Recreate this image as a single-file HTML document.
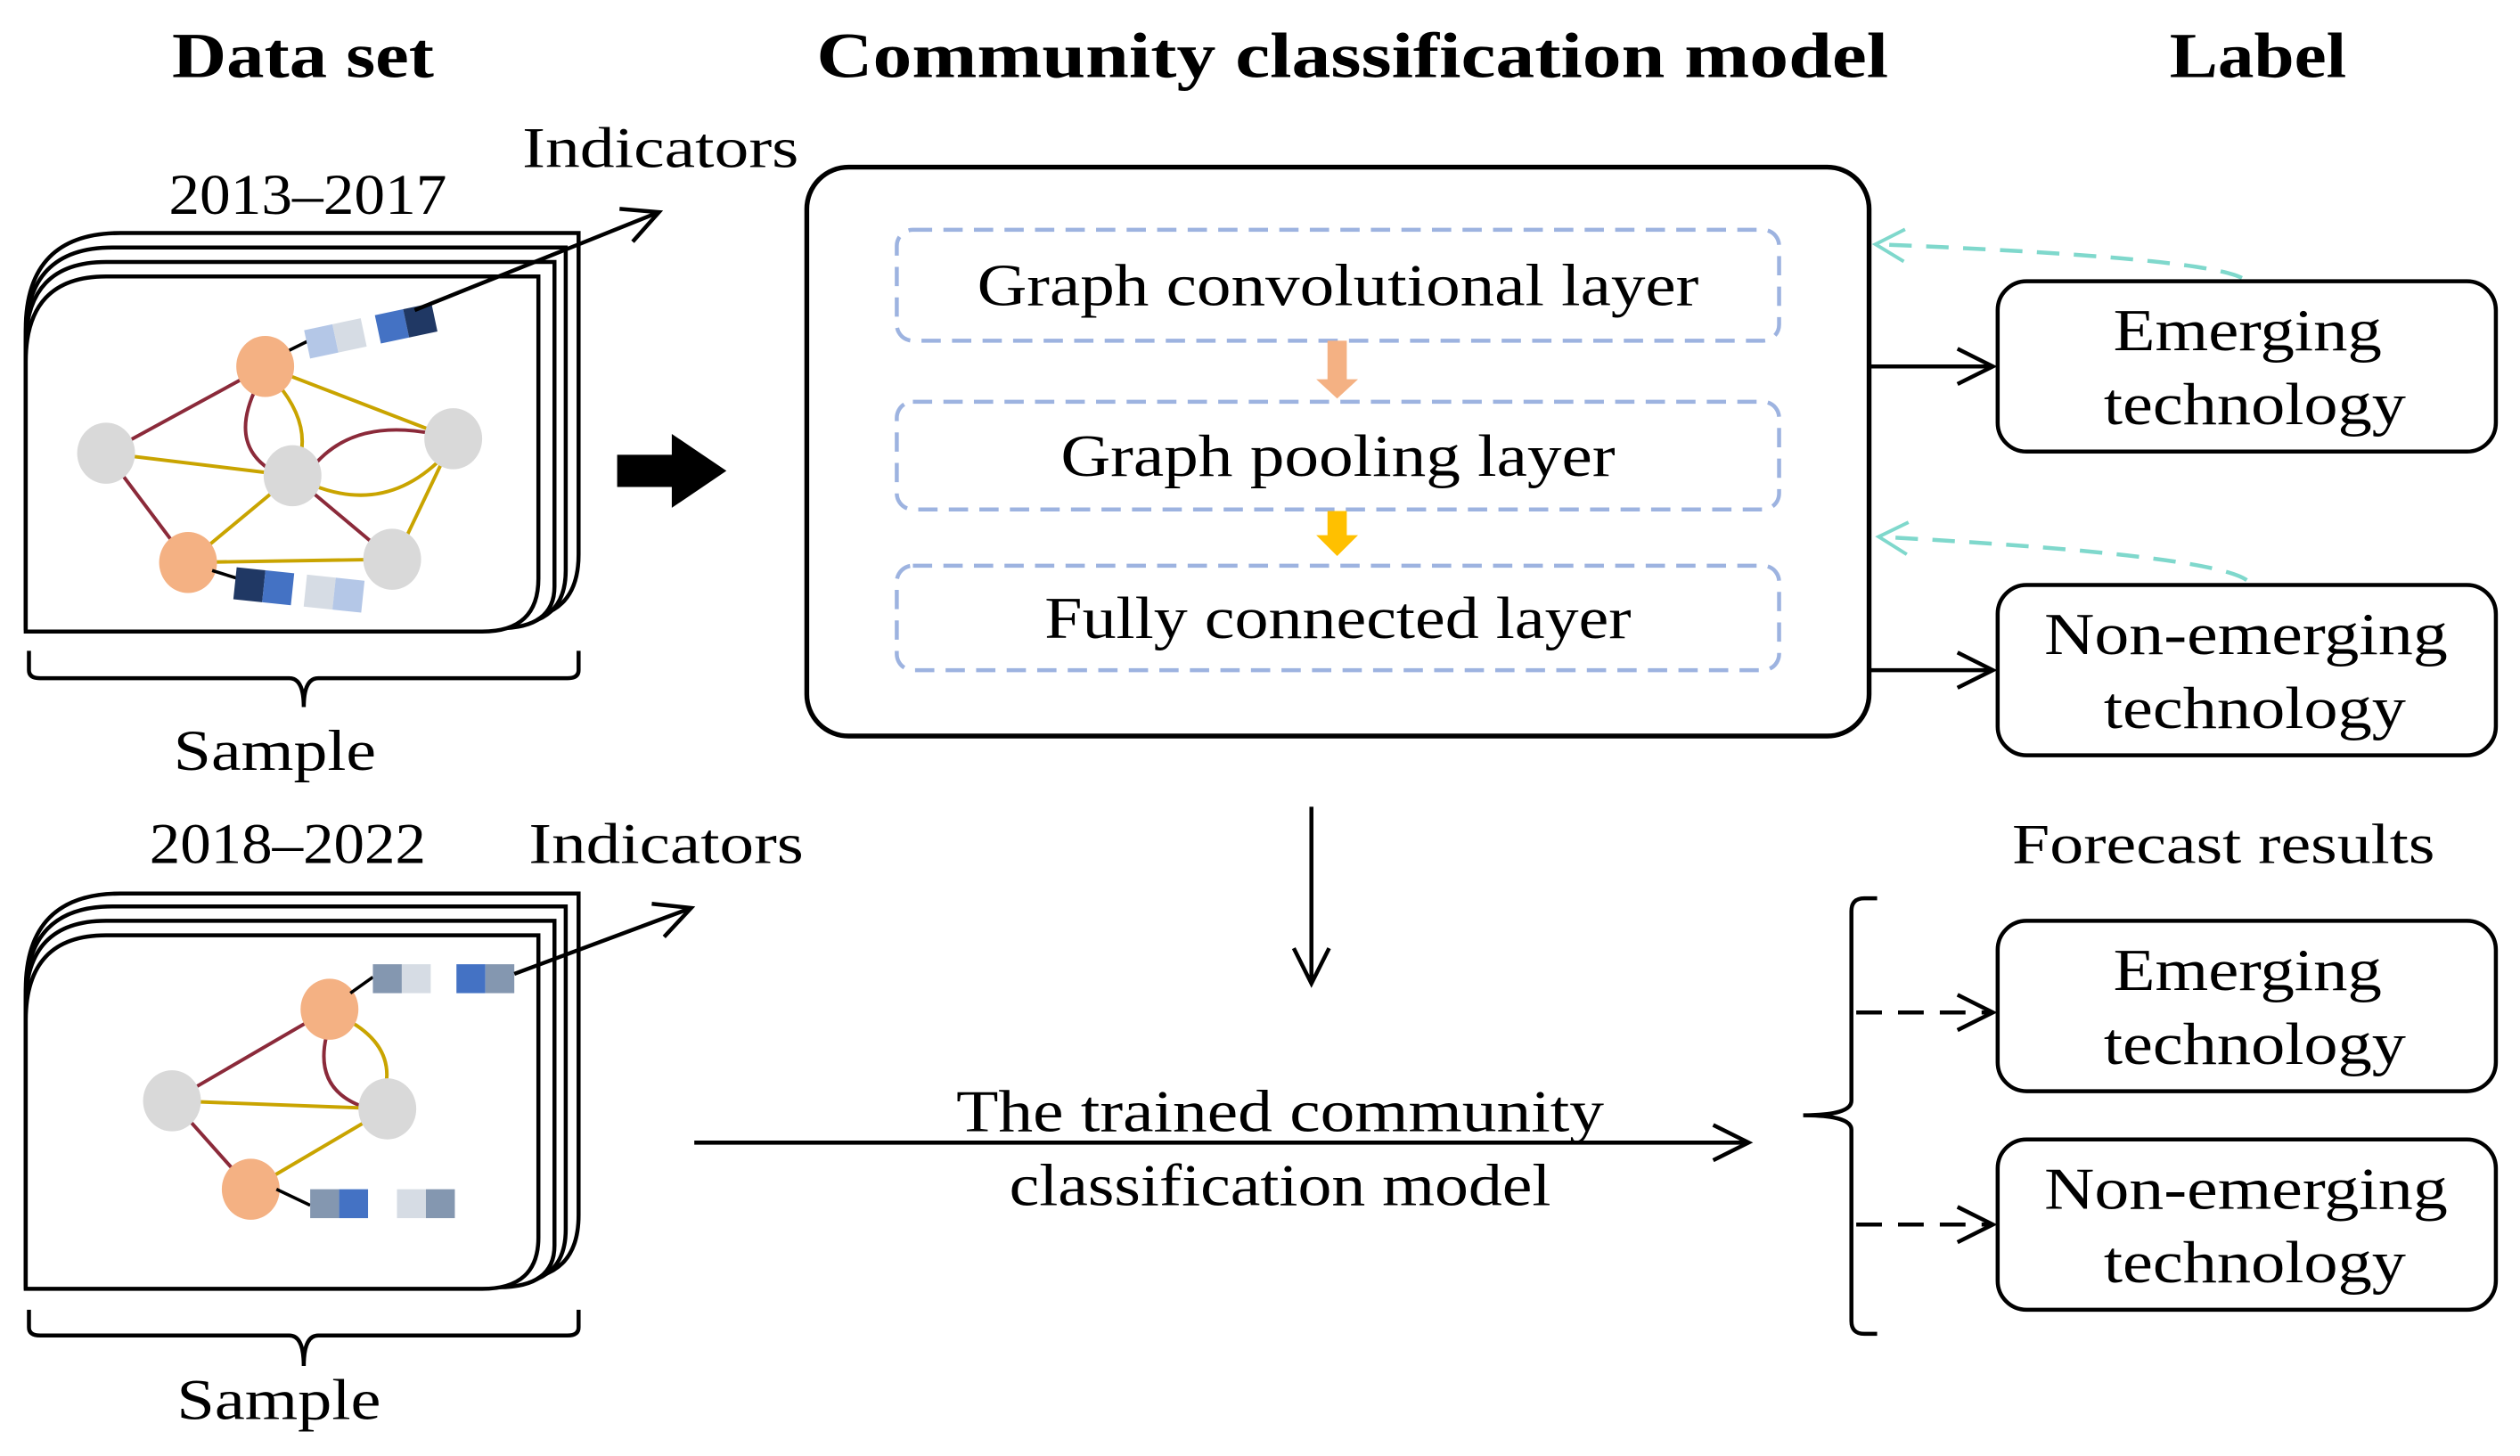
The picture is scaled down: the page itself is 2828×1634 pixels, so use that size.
<!DOCTYPE html>
<html><head><meta charset="utf-8">
<style>
html,body{margin:0;padding:0;background:#fff;}
svg{display:block;}
text{font-family:"Liberation Serif",serif;fill:#000;}
</style></head>
<body>
<svg width="2828" height="1634" viewBox="0 0 1568 906" xmlns="http://www.w3.org/2000/svg">
<defs>
<marker id="oab" markerWidth="30" markerHeight="30" refX="26" refY="15" orient="auto" markerUnits="userSpaceOnUse">
<path d="M4,4 L26,15 L4,26" fill="none" stroke="#000" stroke-width="2.5"/></marker>
<marker id="ta" markerWidth="30" markerHeight="30" refX="24" refY="15" orient="auto" markerUnits="userSpaceOnUse">
<path d="M6,5 L24,15 L6,25" fill="none" stroke="#7fd8cc" stroke-width="2.2"/></marker>
</defs>

<!-- Titles -->
<text x="107" y="48" font-size="40" font-weight="bold" textLength="163" lengthAdjust="spacingAndGlyphs">Data set</text>
<text x="508" y="48" font-size="40" font-weight="bold" textLength="667" lengthAdjust="spacingAndGlyphs">Community classification model</text>
<text x="1350" y="48" font-size="40" font-weight="bold" textLength="110" lengthAdjust="spacingAndGlyphs">Label</text>

<!-- Card stack 1 -->
<g fill="#fff" stroke="#000" stroke-width="2.5">
<path d="M75,145 H360 V345 Q360,385 320,385 H16 V205 Q16,145 75,145Z"/>
<path d="M70,154 H352 V355 Q352,389 315,389 H16 V210 Q16,154 70,154Z"/>
<path d="M66,163 H345 V365 Q345,391 310,391 H16 V215 Q16,163 66,163Z"/>
<path d="M66,172 H335 V360 Q335,393 300,393 H16 V225 Q16,172 66,172Z"/>
</g>
<g stroke-width="2.2" fill="none">
<line x1="165" y1="228" x2="66" y2="282" stroke="#8b2a3a"/>
<line x1="165" y1="228" x2="282" y2="273" stroke="#c9a400"/>
<path d="M160,240 Q140,280 175,296" stroke="#8b2a3a"/>
<path d="M172,238 Q195,265 185,290" stroke="#c9a400"/>
<line x1="66" y1="282" x2="182" y2="296" stroke="#c9a400"/>
<line x1="66" y1="282" x2="117" y2="350" stroke="#8b2a3a"/>
<path d="M195,290 Q220,260 270,270" stroke="#8b2a3a"/>
<path d="M195,302 Q240,320 275,285" stroke="#c9a400"/>
<line x1="182" y1="296" x2="117" y2="350" stroke="#c9a400"/>
<line x1="182" y1="296" x2="244" y2="348" stroke="#8b2a3a"/>
<line x1="282" y1="273" x2="250" y2="340" stroke="#c9a400"/>
<line x1="117" y1="350" x2="244" y2="348" stroke="#c9a400"/>
</g>
<ellipse cx="165" cy="228" rx="18" ry="19" fill="#f4b183"/>
<ellipse cx="117" cy="350" rx="18" ry="19" fill="#f4b183"/>
<ellipse cx="66" cy="282" rx="18" ry="19" fill="#d9d9d9"/>
<ellipse cx="182" cy="296" rx="18" ry="19" fill="#d9d9d9"/>
<ellipse cx="282" cy="273" rx="18" ry="19" fill="#d9d9d9"/>
<ellipse cx="244" cy="348" rx="18" ry="19" fill="#d9d9d9"/>
<line x1="180" y1="218" x2="192" y2="212" stroke="#000" stroke-width="2"/>
<g transform="rotate(-12 230 205)">
<rect x="190" y="197" width="18" height="18" fill="#b4c7e7"/><rect x="208" y="197" width="18" height="18" fill="#d6dce4"/>
<rect x="235" y="197" width="18" height="18" fill="#4472c4"/><rect x="253" y="197" width="18" height="18" fill="#203864"/>
</g>
<line x1="258" y1="193" x2="410" y2="132" stroke="#000" stroke-width="2.5" marker-end="url(#oab)"/>
<line x1="132" y1="355" x2="148" y2="360" stroke="#000" stroke-width="2"/>
<g transform="rotate(6 185 367)">
<rect x="146" y="357" width="18" height="20" fill="#203864"/><rect x="164" y="357" width="18" height="20" fill="#4472c4"/>
<rect x="190" y="357" width="18" height="20" fill="#d6dce4"/><rect x="208" y="357" width="18" height="20" fill="#b4c7e7"/>
</g>
<text x="105" y="133" font-size="36" textLength="173" lengthAdjust="spacingAndGlyphs">2013–2017</text>
<text x="325" y="104" font-size="36" textLength="172" lengthAdjust="spacingAndGlyphs">Indicators</text>
<path d="M18,405 V417 Q18,422 25,422 H180 Q189,422 189,440 Q189,422 198,422 H353 Q360,422 360,417 V405" fill="none" stroke="#000" stroke-width="2.5"/>
<text x="108" y="479" font-size="36" textLength="126" lengthAdjust="spacingAndGlyphs">Sample</text>

<!-- Big arrow -->
<path d="M384,283 H418 V270 L452,293 L418,316 V303 H384Z" fill="#000"/>

<!-- Main box -->
<rect x="502" y="104" width="661" height="354" rx="26" fill="#fff" stroke="#000" stroke-width="3"/>
<g fill="none" stroke="#9db3e0" stroke-width="2.5" stroke-dasharray="12,7">
<rect x="558" y="143" width="549" height="69" rx="10"/>
<rect x="558" y="250" width="549" height="67" rx="10"/>
<rect x="558" y="352" width="549" height="65" rx="10"/>
</g>
<text x="608" y="190" font-size="37" textLength="449" lengthAdjust="spacingAndGlyphs">Graph convolutional layer</text>
<text x="660" y="296" font-size="37" textLength="345" lengthAdjust="spacingAndGlyphs">Graph pooling layer</text>
<text x="650" y="397" font-size="37" textLength="365" lengthAdjust="spacingAndGlyphs">Fully connected layer</text>
<path d="M826,212 H838 V236 H845 L832,248 L819,236 H826Z" fill="#f4b183"/>
<path d="M826,318 H838 V333 H845 L832,346 L819,333 H826Z" fill="#ffc000"/>

<!-- Right labels -->
<line x1="1163" y1="228" x2="1240" y2="228" stroke="#000" stroke-width="2.5" marker-end="url(#oab)"/>
<line x1="1163" y1="417" x2="1240" y2="417" stroke="#000" stroke-width="2.5" marker-end="url(#oab)"/>
<path d="M1395,173 Q1370,160 1167,152" fill="none" stroke="#7fd8cc" stroke-width="2.5" stroke-dasharray="14,9" marker-end="url(#ta)"/>
<path d="M1398,361 Q1375,345 1169,334" fill="none" stroke="#7fd8cc" stroke-width="2.5" stroke-dasharray="14,9" marker-end="url(#ta)"/>
<g fill="#fff" stroke="#000" stroke-width="2.5">
<rect x="1243" y="175" width="310" height="106" rx="18"/>
<rect x="1243" y="364" width="310" height="106" rx="18"/>
<rect x="1243" y="573" width="310" height="106" rx="18"/>
<rect x="1243" y="709" width="310" height="106" rx="18"/>
</g>
<g font-size="37" lengthAdjust="spacingAndGlyphs">
<text x="1315" y="218" textLength="167" lengthAdjust="spacingAndGlyphs">Emerging</text><text x="1309" y="264" textLength="188" lengthAdjust="spacingAndGlyphs">technology</text>
<text x="1272" y="407" textLength="251" lengthAdjust="spacingAndGlyphs">Non-emerging</text><text x="1309" y="453" textLength="188" lengthAdjust="spacingAndGlyphs">technology</text>
<text x="1315" y="616" textLength="167" lengthAdjust="spacingAndGlyphs">Emerging</text><text x="1309" y="662" textLength="188" lengthAdjust="spacingAndGlyphs">technology</text>
<text x="1272" y="752" textLength="251" lengthAdjust="spacingAndGlyphs">Non-emerging</text><text x="1309" y="798" textLength="188" lengthAdjust="spacingAndGlyphs">technology</text>
</g>
<text x="1252" y="537" font-size="35" textLength="263" lengthAdjust="spacingAndGlyphs">Forecast results</text>

<!-- Down arrow -->
<line x1="816" y1="502" x2="816" y2="612" stroke="#000" stroke-width="2.5" marker-end="url(#oab)"/>

<!-- Card stack 2 -->
<g fill="#fff" stroke="#000" stroke-width="2.5">
<path d="M75,556 H360 V756 Q360,796 320,796 H16 V616 Q16,556 75,556Z"/>
<path d="M70,564 H352 V765 Q352,799 315,799 H16 V620 Q16,564 70,564Z"/>
<path d="M66,573 H345 V775 Q345,801 310,801 H16 V625 Q16,573 66,573Z"/>
<path d="M66,582 H335 V770 Q335,802 300,802 H16 V635 Q16,582 66,582Z"/>
</g>
<g stroke-width="2.2" fill="none">
<line x1="205" y1="628" x2="107" y2="685" stroke="#8b2a3a"/>
<path d="M203,645 Q195,680 230,690" stroke="#8b2a3a"/>
<path d="M215,634 Q245,650 240,676" stroke="#c9a400"/>
<line x1="107" y1="685" x2="241" y2="690" stroke="#c9a400"/>
<line x1="107" y1="685" x2="156" y2="740" stroke="#8b2a3a"/>
<line x1="241" y1="690" x2="156" y2="740" stroke="#c9a400"/>
</g>
<ellipse cx="205" cy="628" rx="18" ry="19" fill="#f4b183"/>
<ellipse cx="156" cy="740" rx="18" ry="19" fill="#f4b183"/>
<ellipse cx="107" cy="685" rx="18" ry="19" fill="#d9d9d9"/>
<ellipse cx="241" cy="690" rx="18" ry="19" fill="#d9d9d9"/>
<line x1="218" y1="618" x2="232" y2="608" stroke="#000" stroke-width="2"/>
<rect x="232" y="600" width="18" height="18" fill="#8497b0"/><rect x="250" y="600" width="18" height="18" fill="#d6dce4"/>
<rect x="284" y="600" width="18" height="18" fill="#4472c4"/><rect x="302" y="600" width="18" height="18" fill="#8497b0"/>
<line x1="320" y1="606" x2="430" y2="565" stroke="#000" stroke-width="2.5" marker-end="url(#oab)"/>
<line x1="172" y1="740" x2="193" y2="750" stroke="#000" stroke-width="2"/>
<rect x="193" y="740" width="18" height="18" fill="#8497b0"/><rect x="211" y="740" width="18" height="18" fill="#4472c4"/>
<rect x="247" y="740" width="18" height="18" fill="#d6dce4"/><rect x="265" y="740" width="18" height="18" fill="#8497b0"/>
<text x="93" y="537" font-size="36" textLength="172" lengthAdjust="spacingAndGlyphs">2018–2022</text>
<text x="329" y="537" font-size="36" textLength="171" lengthAdjust="spacingAndGlyphs">Indicators</text>
<path d="M18,815 V826 Q18,831 25,831 H180 Q189,831 189,850 Q189,831 198,831 H353 Q360,831 360,826 V815" fill="none" stroke="#000" stroke-width="2.5"/>
<text x="110" y="883" font-size="36" textLength="127" lengthAdjust="spacingAndGlyphs">Sample</text>

<!-- Trained model arrow -->
<line x1="432" y1="711" x2="1088" y2="711" stroke="#000" stroke-width="2.5" marker-end="url(#oab)"/>
<text x="595" y="704" font-size="37" textLength="403" lengthAdjust="spacingAndGlyphs">The trained community</text>
<text x="628" y="750" font-size="37" textLength="337" lengthAdjust="spacingAndGlyphs">classification model</text>

<!-- Right brace -->
<path d="M1168,559 H1160 Q1152,559 1152,567 V685 Q1152,694 1122,694 Q1152,694 1152,703 V822 Q1152,830 1160,830 H1168" fill="none" stroke="#000" stroke-width="2.5"/>
<line x1="1155" y1="630" x2="1240" y2="630" stroke="#000" stroke-width="2.5" stroke-dasharray="16,10" marker-end="url(#oab)"/>
<line x1="1155" y1="762" x2="1240" y2="762" stroke="#000" stroke-width="2.5" stroke-dasharray="16,10" marker-end="url(#oab)"/>
</svg>
</body></html>
